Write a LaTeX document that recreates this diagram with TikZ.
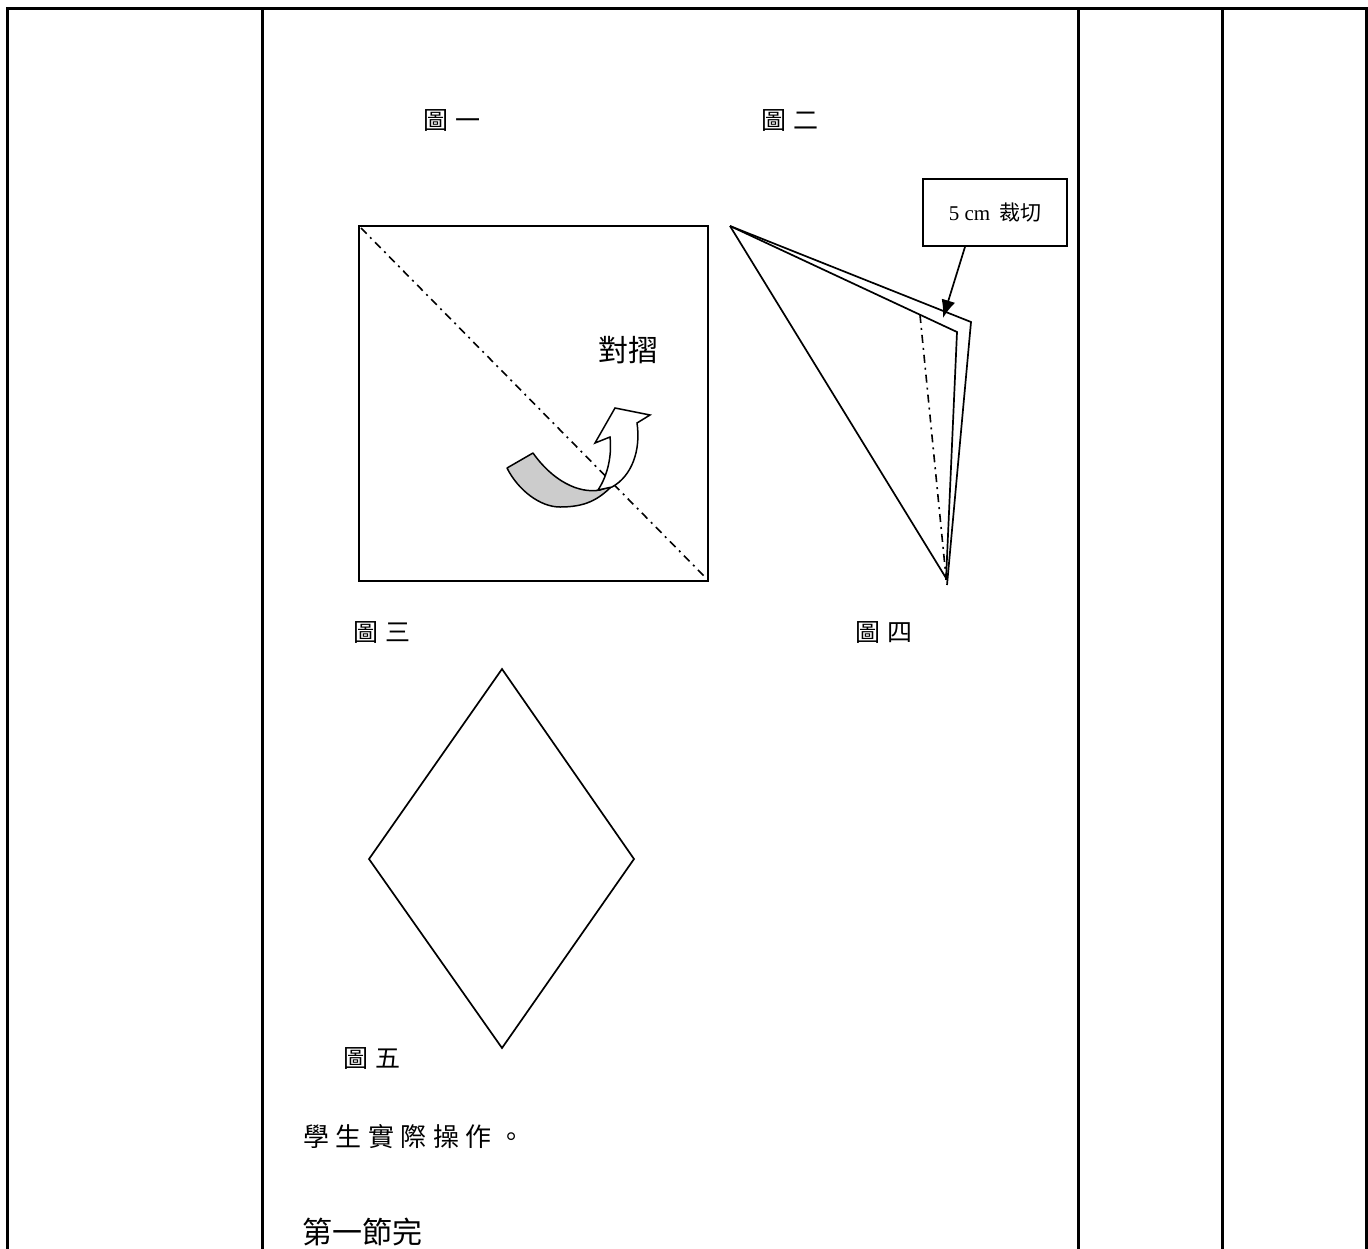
\documentclass[tikz,border=0pt]{standalone}
\usepackage{fontspec}
\setmainfont{Liberation Serif}
\newfontfamily\cjk{Noto Sans CJK TC}
\usetikzlibrary{arrows.meta}
\begin{document}
\begin{tikzpicture}[x=1pt,y=-1pt,
  tbl/.style={line width=3pt},
  shp/.style={line width=1.7pt, line join=miter},
  dashdot/.style={line width=1.6pt, dash pattern=on 8pt off 5pt on 2pt off 5pt},
  lbl/.style={font=\cjk\fontsize{25}{25}\selectfont, inner sep=0pt},
  body/.style={font=\cjk\fontsize{30}{30}\selectfont, inner sep=0pt, anchor=west},
]
\useasboundingbox (0,0) rectangle (1368,1248);
% table
\draw[tbl] (7,1260) -- (7,8) -- (1366,8) -- (1366,1260);
\draw[tbl] (262,8) -- (262,1260);
\draw[tbl] (1078,8) -- (1078,1260);
\draw[tbl] (1222,8) -- (1222,1260);

% labels
\node[lbl] (l1) at (452,120) {圖\hspace{7pt}一};
\node[lbl] (l2) at (790,120) {圖\hspace{7pt}二};
\node[lbl] (l3) at (382,632) {圖\hspace{7pt}三};
\node[lbl] (l4) at (884,632) {圖\hspace{7pt}四};
\node[lbl] (l5) at (372,1058) {圖\hspace{7pt}五};

% figure 1: square
\draw[shp] (359,226) rectangle (708,581);
\draw[dashdot] (361,228) -- (706,578);
\node[font=\cjk\fontsize{30}{30}\selectfont, inner sep=0pt] (fold) at (628,350) {對摺};
% curved arrow
\draw[line width=1.5pt, fill=black!20, line join=round]
  (507,468) -- (533,453) .. controls (552,480) and (578,494) .. (600,490)
  -- (612,486) .. controls (598,500) and (585,507) .. (560,507)
  .. controls (540,507) and (518,490) .. (507,468) -- cycle;
\draw[line width=1.5pt, fill=white, line join=miter]
  (598,490) .. controls (608,475) and (612,455) .. (610,437)
  -- (595,443) -- (615,408) -- (650,415) -- (637,423)
  .. controls (641,450) and (632,476) .. (612,487) -- cycle;

% figure 2: folded triangle
\coordinate (A) at (730,226);
\draw[shp] (A) -- (971,322) -- (947,585);
\draw[shp] (A) -- (957,332) -- (946,580);
\draw[shp] (A) -- (946,578);
\draw[dashdot] (920,315) -- (946,577);

% callout
\node[draw, line width=1.7pt, minimum width=144pt, minimum height=67pt, inner sep=0pt,
      font=\fontsize{21}{21}\selectfont] (cb) at (995,212.5) {5 cm\hspace{9pt}{\cjk 裁切}};
\coordinate (tip) at (943,318);
\draw[line width=1.7pt, -{Latex[length=18pt,width=14pt]}] ([xshift=-30pt]cb.south) -- (tip);

% figure 3: diamond
\draw[shp] (502,669) -- (634,859) -- (502,1048) -- (369,859) -- cycle;

% body text
\node[body, font=\cjk\fontsize{26}{26}\selectfont] (t1) at (303,1137) {學\hspace{6.5pt}生\hspace{6.5pt}實\hspace{6.5pt}際\hspace{6.5pt}操\hspace{6.5pt}作\hspace{6.5pt}。};
\node[body] (t2) at (302,1232) {第一節完};
\end{tikzpicture}
\end{document}
